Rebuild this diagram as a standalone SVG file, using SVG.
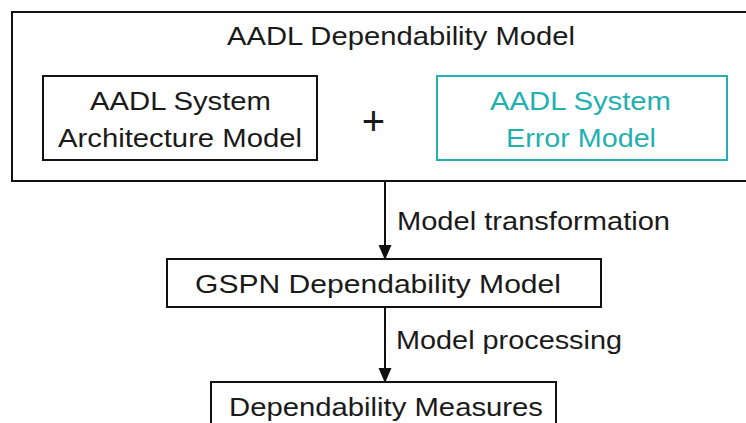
<svg xmlns="http://www.w3.org/2000/svg" width="746" height="423" viewBox="0 0 746 423">
  <defs>
    <style>
      .box { fill: #ffffff; stroke: #111111; stroke-width: 2; }
      .teal { fill: #ffffff; stroke: #22b2b2; stroke-width: 2; }
      .t { font-family: "Liberation Sans", Arial, sans-serif; font-size: 26px; fill: #1a1a1a; }
      .tt { font-family: "Liberation Sans", Arial, sans-serif; font-size: 26px; fill: #1fb0b0; }
      .conn { stroke: #111111; stroke-width: 2; fill: none; }
    </style>
    <marker id="arrow" viewBox="0 0 13 15" refX="13" refY="6.5" markerWidth="13" markerHeight="15" markerUnits="userSpaceOnUse" orient="auto">
      <path d="M0,0 L15,6.5 L0,13 Z" fill="#111111"/>
    </marker>
  </defs>
  <rect width="746" height="423" fill="#ffffff"/>
  <g id="dependability-model">
    <rect class="box" x="12" y="12" width="740" height="169"/>
    <text class="t" x="227" y="45" textLength="348" lengthAdjust="spacingAndGlyphs">AADL Dependability Model</text>
    <text class="t" x="373.5" y="135" text-anchor="middle" style="font-size:40px">+</text>
  </g>
  <g id="architecture-model">
    <rect class="box" x="43" y="76" width="274" height="84"/>
    <text class="t" x="90" y="110" textLength="181" lengthAdjust="spacingAndGlyphs">AADL System</text>
    <text class="t" x="58" y="147" textLength="244" lengthAdjust="spacingAndGlyphs">Architecture Model</text>
  </g>
  <g id="error-model">
    <rect class="teal" x="437" y="76" width="290" height="84"/>
    <text class="tt" x="490" y="110" textLength="181" lengthAdjust="spacingAndGlyphs">AADL System</text>
    <text class="tt" x="506" y="147" textLength="150" lengthAdjust="spacingAndGlyphs">Error Model</text>
  </g>
  <g id="gspn-model">
    <rect class="box" x="167" y="259" width="434" height="48"/>
    <text class="t" x="195" y="293" textLength="366" lengthAdjust="spacingAndGlyphs">GSPN Dependability Model</text>
  </g>
  <g id="dependability-measures">
    <rect class="box" x="211" y="382" width="345" height="60"/>
    <text class="t" x="229" y="416" textLength="314" lengthAdjust="spacingAndGlyphs">Dependability Measures</text>
  </g>
  <g id="connectors">
    <line class="conn" x1="385" y1="182" x2="385" y2="258" marker-end="url(#arrow)"/>
    <text class="t" x="397" y="230" textLength="273" lengthAdjust="spacingAndGlyphs">Model transformation</text>
    <line class="conn" x1="385" y1="308" x2="385" y2="381" marker-end="url(#arrow)"/>
    <text class="t" x="396" y="349" textLength="226" lengthAdjust="spacingAndGlyphs">Model processing</text>
  </g>
</svg>
